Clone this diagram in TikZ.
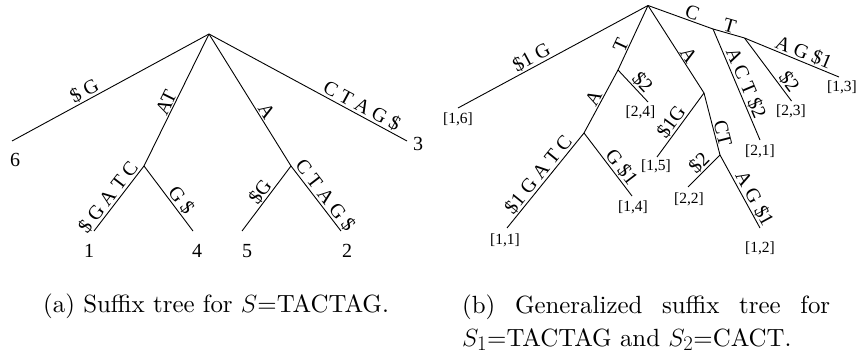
\documentclass[tikz,border=0pt]{standalone}
\usepackage{fontspec}
\newfontfamily\tms{Liberation Serif}
\newfontfamily\capfont[Extension=.otf]{lmroman10-regular}
\tikzset{
  edge/.style={line width=0.9pt},
  elab/.style={font=\tms\fontsize{20}{20}\selectfont, sloped, above, inner sep=1pt},
  leafA/.style={font=\tms\fontsize{20}{20}\selectfont, inner sep=0pt},
  leafB/.style={font=\tms\fontsize{15.5}{15.5}\selectfont, inner sep=0pt},
  captext/.style={font=\capfont\fontsize{24.88}{34}\selectfont, inner sep=0pt, anchor=base west},
}
\begin{document}
\begin{tikzpicture}[x=1pt,y=-1pt]
\useasboundingbox (0,0) rectangle (857,350);
% ---------- left tree ----------
\coordinate (r1) at (209,34);
\coordinate (a6) at (12,141);
\coordinate (nAT) at (144,166);
\coordinate (a1) at (94,231);
\coordinate (a4) at (193,231);
\coordinate (nA) at (291,166);
\coordinate (a5) at (242,231);
\coordinate (a2) at (341,231);
\coordinate (a3) at (407,141);
\draw[edge] (a6) -- node[elab,pos=.39]{\$ G} (r1);
\draw[edge] (nAT) -- node[elab,pos=.45]{AT} (r1);
\draw[edge] (r1) -- node[elab,pos=.62]{A} (nA);
\draw[edge] (r1) -- node[elab,pos=.75]{C T A G \$} (a3);
\draw[edge] (a1) -- node[elab,pos=.43]{\$ G A T C} (nAT);
\draw[edge] (nAT) -- node[elab,pos=.61]{G \$} (a4);
\draw[edge] (a5) -- node[elab,pos=.52]{\$G} (nA);
\draw[edge] (nA) -- node[elab,pos=.54]{C T A G \$} (a2);
\node[leafA] (t6) at (15,160) {6};
\node[leafA] (t1) at (89,251) {1};
\node[leafA] (t4) at (197,251) {4};
\node[leafA] (t5) at (247,251) {5};
\node[leafA] (t2) at (347,251) {2};
\node[leafA] (t3) at (418,144) {3};
% ---------- right tree ----------
\coordinate (r2) at (648,5.5);
\coordinate (b16) at (458,108);
\coordinate (nT) at (618,70);
\coordinate (b24) at (648,102);
\coordinate (nA2) at (584,133);
\coordinate (b11) at (507,228);
\coordinate (b14) at (632,196);
\coordinate (nAA) at (704,93);
\coordinate (b15) at (657,157);
\coordinate (nCT) at (720,155);
\coordinate (b22) at (688,187);
\coordinate (b12) at (760,228);
\coordinate (nC) at (713,29);
\coordinate (nT2) at (744.5,38);
\coordinate (b13) at (839,77);
\coordinate (b21) at (760,140);
\coordinate (b23) at (791.5,101);
\draw[edge] (b16) -- node[elab,pos=.41]{\$1 G} (r2);
\draw[edge] (nT) -- node[elab,pos=.33]{T} (r2);
\draw[edge] (nT) -- node[elab,pos=.59]{\$2} (b24);
\draw[edge] (nA2) -- node[elab,pos=.49]{A} (nT);
\draw[edge] (b11) -- node[elab,pos=.5]{\$1 G A T C} (nA2);
\draw[edge] (nA2) -- node[elab,pos=.63]{G \$1} (b14);
\draw[edge] (r2) -- node[elab,pos=.61]{A} (nAA);
\draw[edge] (b15) -- node[elab,pos=.46]{\$1G} (nAA);
\draw[edge] (nAA) -- node[elab,pos=.68]{CT} (nCT);
\draw[edge] (b22) -- node[elab,pos=.55]{\$2} (nCT);
\draw[edge] (nCT) -- node[elab,pos=.66]{A G \$1} (b12);
\draw[edge] (r2) -- node[elab,pos=.64]{C} (nC);
\draw[edge] (nC) -- node[elab,pos=.46]{T} (nT2);
\draw[edge] (nT2) -- node[elab,pos=.59]{A G \$1} (b13);
\draw[edge] (nC) -- node[elab,pos=.52]{A C T \$2} (b21);
\draw[edge] (nT2) -- node[elab,pos=.79]{\$2} (b23);
\node[leafB] (u16) at (458,119.5) {[1,6]};
\node[leafB] (u24) at (640.5,112) {[2,4]};
\node[leafB] (u11) at (505,240) {[1,1]};
\node[leafB] (u14) at (633,207.5) {[1,4]};
\node[leafB] (u15) at (656,166.7) {[1,5]};
\node[leafB] (u22) at (689,199.5) {[2,2]};
\node[leafB] (u12) at (760,248) {[1,2]};
\node[leafB] (u21) at (760,151) {[2,1]};
\node[leafB] (u23) at (791,111) {[2,3]};
\node[leafB] (u13) at (842,87) {[1,3]};
% ---------- captions ----------
\node[captext] (capa) at (43,312) {(a) Suffix tree for $S$=TACTAG.};
\node[captext] (capb1) at (462,313) {\hbox to 368pt{(b)\hfill Generalized\hfill suffix\hfill tree\hfill for}};
\node[captext] (capb2) at (462,346) {$S_1$=TACTAG and $S_2$=CACT.};
\end{tikzpicture}
\end{document}
